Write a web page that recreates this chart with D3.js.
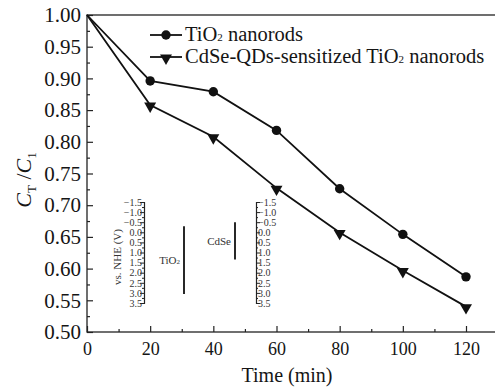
<!DOCTYPE html>
<html>
<head>
<meta charset="utf-8">
<script src="https://cdn.jsdelivr.net/npm/d3@7"></script>
<style>
  body { margin: 0; background: #fff; }
</style>
</head>
<body>
<svg id="chart" width="495" height="387"></svg>
<script>
// <----------------- data ----------------->
const times = [0, 20, 40, 60, 80, 100, 120];
const tio2 = [1.0, 0.896, 0.879, 0.818, 0.726, 0.654, 0.587];
const cdse = [1.0, 0.858, 0.808, 0.727, 0.657, 0.597, 0.54];
const yTicks = [0.5, 0.55, 0.6, 0.65, 0.7, 0.75, 0.8, 0.85, 0.9, 0.95, 1.0];
const xTicks = [0, 20, 40, 60, 80, 100, 120];

// inset: band edges vs NHE
const bandNames = ["TiO2", "CdSe"];
const bandTop = [-0.3, -0.5];
const bandBottom = [3.05, 1.35];
const insetTicks = [-1.5, -1.0, -0.5, 0.0, 0.5, 1.0, 1.5, 2.0, 2.5, 3.0, 3.5];

const serif = "'Liberation Serif', 'Times New Roman', Times, serif";
const ink = "#151515";
const svg = d3.select("#chart");
const mLeft = 87, mRight = 497, mTop = 15, mBottom = 332;

const x = d3.scaleLinear().domain([0, 120]).range([mLeft, 466]);
const y = d3.scaleLinear().domain([0.5, 1.0]).range([mBottom, mTop]);

// frame
svg.append("rect")
  .attr("x", mLeft).attr("y", mTop)
  .attr("width", mRight - mLeft).attr("height", mBottom - mTop)
  .attr("fill", "none").attr("stroke", "#222").attr("stroke-width", 1.3);

// y axis (ticks inward)
const yAxis = d3.axisRight(y).tickValues(yTicks).tickSize(6).tickFormat(d3.format(".2f"));
const yMinor = d3.axisRight(y).tickValues(d3.range(0.525, 1.0, 0.05)).tickSize(3).tickFormat("");
svg.append("g").attr("transform", `translate(${mLeft},0)`).call(yAxis)
  .call((g) => g.select(".domain").remove())
  .call((g) => g.selectAll("text").attr("x", -6).attr("text-anchor", "end")
    .style("font-size", "21px").attr("fill", ink));
svg.append("g").attr("transform", `translate(${mLeft},0)`).call(yMinor)
  .call((g) => g.select(".domain").remove());

// x axis (ticks inward)
const xAxis = d3.axisTop(x).tickValues(xTicks).tickSize(6);
const xMinor = d3.axisTop(x).tickValues(d3.range(10, 130, 20)).tickSize(3).tickFormat("");
svg.append("g").attr("transform", `translate(0,${mBottom})`).call(xAxis)
  .call((g) => g.select(".domain").remove())
  .call((g) => g.selectAll("text").attr("y", 23).attr("dy", 0)
    .style("font-size", "18px").attr("fill", ink));
svg.append("g").attr("transform", `translate(0,${mBottom})`).call(xMinor)
  .call((g) => g.select(".domain").remove());
svg.selectAll(".tick line").attr("stroke", "#222").attr("stroke-width", 1.2);

// axis titles
svg.append("text").attr("x", 287).attr("y", 382).attr("text-anchor", "middle")
  .style("font-size", "20px").attr("fill", ink).text("Time (min)");

const yl = svg.append("text").attr("transform", "translate(31,180) rotate(-90)")
  .attr("text-anchor", "middle").style("font-size", "22px").attr("fill", ink);
yl.append("tspan").style("font-style", "italic").text("C");
yl.append("tspan").attr("dy", 5).style("font-size", "13px").text("T");
yl.append("tspan").attr("dy", -5).text(" /");
yl.append("tspan").style("font-style", "italic").text("C");
yl.append("tspan").attr("dy", 5).style("font-size", "13px").text("1");

// series
const points = (vals) => times.map((t, i) => ({ t: t, v: vals[i] }));
const line = d3.line().x((d) => x(d.t)).y((d) => y(d.v));

svg.append("path").datum(points(tio2)).attr("d", line)
  .attr("fill", "none").attr("stroke", "#111").attr("stroke-width", 1.8);
svg.append("path").datum(points(cdse)).attr("d", line)
  .attr("fill", "none").attr("stroke", "#111").attr("stroke-width", 1.8);

svg.selectAll(".dot").data(points(tio2).slice(1)).join("circle")
  .attr("class", "dot")
  .attr("cx", (d) => x(d.t)).attr("cy", (d) => y(d.v)).attr("r", 4.7).attr("fill", "#111");

const tri = d3.symbol().type(d3.symbolTriangle).size(62);
svg.selectAll(".tri").data(points(cdse).slice(1)).join("path")
  .attr("class", "tri")
  .attr("d", tri)
  .attr("transform", (d) => `translate(${x(d.t)},${y(d.v) + 1}) rotate(180)`)
  .attr("fill", "#111");

// legend
const legend = svg.append("g");
const rows = [
  { y: 35, kind: "dot", label: "TiO", rest: " nanorods" },
  { y: 57, kind: "tri", label: "CdSe-QDs-sensitized TiO", rest: " nanorods" },
];
rows.forEach((r) => {
  legend.append("line").attr("x1", 150).attr("x2", 182).attr("y1", r.y).attr("y2", r.y)
    .attr("stroke", "#111").attr("stroke-width", 1.8);
  if (r.kind === "dot") {
    legend.append("circle").attr("cx", 166).attr("cy", r.y).attr("r", 4.7).attr("fill", "#111");
  } else {
    legend.append("path").attr("d", tri).attr("transform", `translate(166,${r.y + 1}) rotate(180)`)
      .attr("fill", "#111");
  }
  const t = legend.append("text").attr("x", 185).attr("y", r.y + 6)
    .style("font-size", "20.5px").attr("fill", ink);
  t.append("tspan").text(r.label);
  t.append("tspan").style("font-size", "11px").text("2");
  t.append("tspan").text(r.rest);
});

// <----------------- inset ----------------->
const iy = d3.scaleLinear().domain([-1.5, 3.5]).range([202, 303]);
const insetFont = "10px";
const inL = d3.axisLeft(iy).tickValues(insetTicks).tickSize(4).tickFormat(d3.format(".1f"));
const inLMinor = d3.axisLeft(iy).tickValues(d3.range(-1.25, 3.5, 0.5)).tickSize(2).tickFormat("");
const inR = d3.axisRight(iy).tickValues(insetTicks).tickSize(4).tickFormat(d3.format(".1f"));
const inRMinor = d3.axisRight(iy).tickValues(d3.range(-1.25, 3.5, 0.5)).tickSize(2).tickFormat("");

[[144, inL, inLMinor, -2], [256, inR, inRMinor, 2]].forEach(([px, ax, mn, tx]) => {
  svg.append("g").attr("transform", `translate(${px},0)`).call(ax)
    .call((g) => g.select(".domain").attr("stroke", "#222").attr("stroke-width", 1.2))
    .call((g) => g.selectAll(".tick line").attr("stroke", "#222"))
    .call((g) => g.selectAll("text").style("font-size", insetFont).attr("fill", "#333")
      .attr("x", tx));
  svg.append("g").attr("transform", `translate(${px},0)`).call(mn)
    .call((g) => g.select(".domain").remove())
    .call((g) => g.selectAll(".tick line").attr("stroke", "#222"));
});

svg.append("text").attr("transform", "translate(121,257) rotate(-90)")
  .attr("text-anchor", "middle").style("font-size", "11px").attr("fill", "#333")
  .text("vs. NHE (V)");

const bandX = [184, 235];
bandNames.forEach((name, i) => {
  svg.append("line").attr("x1", bandX[i]).attr("x2", bandX[i])
    .attr("y1", iy(bandTop[i])).attr("y2", iy(bandBottom[i]))
    .attr("stroke", "#111").attr("stroke-width", 1.8);
});
const lt = svg.append("text").attr("x", 180).attr("y", 264).attr("text-anchor", "end")
  .style("font-size", "11px").attr("fill", "#333");
lt.append("tspan").text("TiO");
lt.append("tspan").style("font-size", "7px").text("2");
svg.append("text").attr("x", 231).attr("y", 245).attr("text-anchor", "end")
  .style("font-size", "11px").attr("fill", "#333").text("CdSe");

// force the serif face everywhere (axes set sans-serif on their groups)
svg.selectAll("g").attr("font-family", null);
svg.selectAll("text").style("font-family", serif);
</script>
</body>
</html>
